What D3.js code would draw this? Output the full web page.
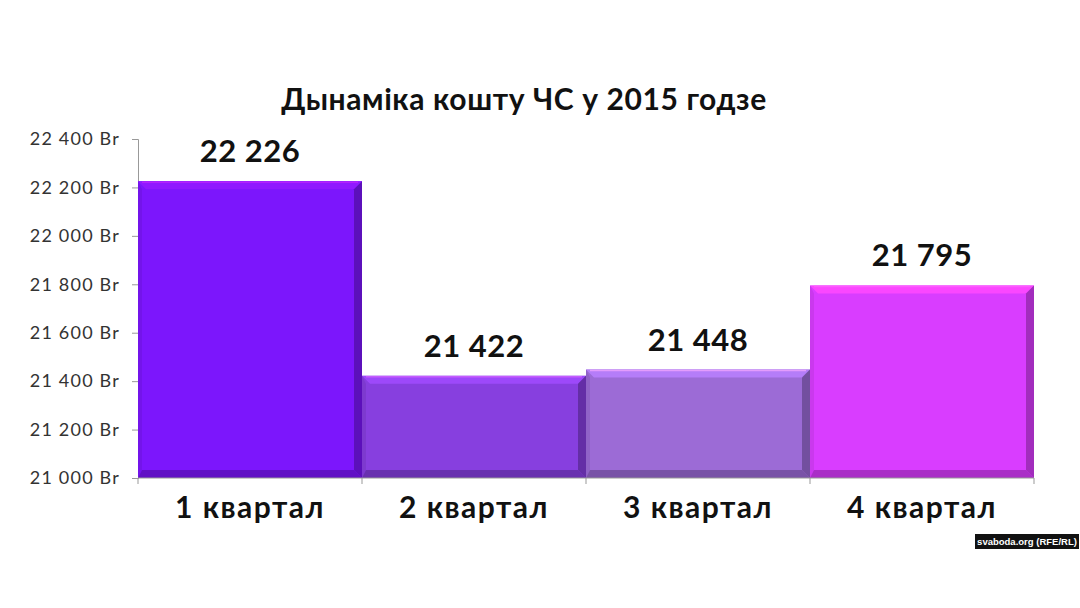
<!DOCTYPE html>
<html><head><meta charset="utf-8">
<script src="https://cdn.jsdelivr.net/npm/d3@7"></script>
<style>body{margin:0;background:#fff}svg{display:block}</style>
</head><body>
<svg id="c" width="1080" height="608"></svg>
<script>
const categories = ["1 квартал", "2 квартал", "3 квартал", "4 квартал"];
const values = [22226, 21422, 21448, 21795];
const valueLabels = ["22 226", "21 422", "21 448", "21 795"];
const colors = ["#7c16fc", "#873fdf", "#9c6bd6", "#d93dff"];
const yTicks = [21000, 21200, 21400, 21600, 21800, 22000, 22200, 22400];
const title = "Дынаміка кошту ЧС у 2015 годзе";
const credit = "svaboda.org (RFE/RL)";

const svg = d3.select("#c");
const m = {l: 138, r: 1034, t: 139, b: 478};
const x = d3.scaleBand().domain(categories).range([m.l, m.r]).padding(0);
const y = d3.scaleLinear().domain([21000, 22400]).range([m.b, m.t]);
const fmt = v => d3.format(",")(v).replace(/,/g, " ") + " Br";

// title
svg.append("text").attr("x", 524).attr("y", 110).attr("text-anchor", "middle")
  .attr("font-family", "Lato, sans-serif").attr("font-weight", 700).attr("font-size", 30)
  .attr("letter-spacing", 0.6).attr("fill", "#111").text(title);

// y axis
const ya = svg.append("g").attr("transform", `translate(${m.l},0)`)
  .call(d3.axisLeft(y).tickValues(yTicks).tickFormat(fmt).tickSize(6).tickPadding(12));
ya.select(".domain").attr("stroke", "#999").attr("stroke-width", 1);
ya.selectAll(".tick line").attr("stroke", "#999");
ya.selectAll(".tick text").attr("font-family", "Lato, sans-serif").attr("font-size", 18)
  .attr("letter-spacing", 1.2).attr("fill", "#333");

// bars
const bevel = 8;
const gBars = svg.append("g");
categories.forEach((c, i) => {
  const x0 = x(c), w = x.bandwidth(), y0 = y(values[i]), h = y(21000) - y0;
  const g = gBars.append("g");
  const base = d3.color(colors[i]);
  g.append("rect").attr("x", x0).attr("y", y0).attr("width", w).attr("height", h).attr("fill", colors[i]);
  g.append("polygon").attr("points", [[x0, y0], [x0 + w, y0], [x0 + w - bevel, y0 + bevel], [x0 + bevel, y0 + bevel]].join(" "))
    .attr("fill", base.brighter(0.5)).attr("opacity", 0.85);
  g.append("polygon").attr("points", [[x0, y0], [x0 + bevel * 0.5, y0 + bevel], [x0 + bevel * 0.5, y0 + h - bevel], [x0, y0 + h]].join(" "))
    .attr("fill", base.darker(0.3)).attr("opacity", 0.7);
  g.append("polygon").attr("points", [[x0 + w, y0], [x0 + w, y0 + h], [x0 + w - bevel, y0 + h - bevel], [x0 + w - bevel, y0 + bevel]].join(" "))
    .attr("fill", base.darker(1.1)).attr("opacity", 0.8);
  g.append("polygon").attr("points", [[x0, y0 + h], [x0 + w, y0 + h], [x0 + w - bevel, y0 + h - bevel], [x0 + bevel * 0.5, y0 + h - bevel]].join(" "))
    .attr("fill", base.darker(0.9)).attr("opacity", 0.8);
  g.append("line").attr("x1", x0 + 4).attr("x2", x0 + w - 4).attr("y1", y0 + 1).attr("y2", y0 + 1)
    .attr("stroke", base.brighter(1.2)).attr("stroke-width", 1.5).attr("opacity", 0.8);
});

// x axis
const xa = svg.append("g").attr("transform", `translate(0,${m.b})`);
xa.append("line").attr("x1", m.l).attr("x2", m.r).attr("stroke", "#999");
const bounds = categories.map(c => x(c)).concat([x(categories[categories.length - 1]) + x.bandwidth()]);
xa.selectAll("line.t").data(bounds).join("line").attr("class", "t")
  .attr("x1", d => d).attr("x2", d => d).attr("y1", 0).attr("y2", 6).attr("stroke", "#999");
xa.selectAll("text").data(categories).join("text")
  .attr("x", d => x(d) + x.bandwidth() / 2).attr("y", 40).attr("text-anchor", "middle")
  .attr("font-family", "Lato, sans-serif").attr("font-weight", 700).attr("font-size", 30)
  .attr("letter-spacing", 1.5).attr("fill", "#111").text(d => d);

// value labels
svg.append("g").selectAll("text").data(categories).join("text")
  .attr("x", d => x(d) + x.bandwidth() / 2)
  .attr("y", (d, i) => y(values[i]) - 19)
  .attr("text-anchor", "middle")
  .attr("font-family", "Lato, sans-serif").attr("font-weight", 700).attr("font-size", 31)
  .attr("letter-spacing", 0.5).attr("fill", "#111").text((d, i) => valueLabels[i]);

// credit
const cg = svg.append("g");
cg.append("rect").attr("x", 975).attr("y", 534).attr("width", 104).attr("height", 15).attr("fill", "#111");
cg.append("text").attr("x", 1027).attr("y", 545).attr("text-anchor", "middle")
  .attr("font-family", "'Liberation Sans', Arial, sans-serif").attr("font-weight", 700).attr("font-size", 9.5)
  .attr("fill", "#fff").text(credit);
</script>
</body></html>
